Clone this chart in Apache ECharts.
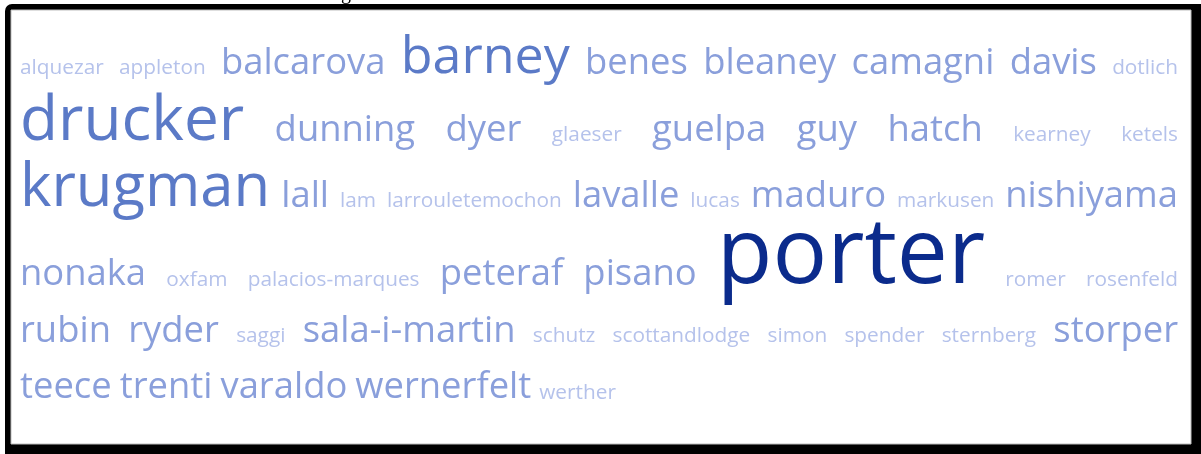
<!DOCTYPE html>
<html>
<head>
<meta charset="utf-8">
<script src="https://cdn.jsdelivr.net/npm/echarts@6/dist/echarts.min.js"></script>
<style>
  html, body { margin: 0; padding: 0; background: #fff; }
  #miNube { width: 1201px; height: 454px; }
</style>
</head>
<body>
<div id="miNube"></div>
<script>
// Nube de autores (tag cloud), en orden alfabético
var autores = [
    'alquezar', 'appleton', 'balcarova', 'barney', 'benes', 'bleaney', 'camagni', 'davis', 'dotlich',
    'drucker', 'dunning', 'dyer', 'glaeser', 'guelpa', 'guy', 'hatch', 'kearney', 'ketels',
    'krugman', 'lall', 'lam', 'larrouletemochon', 'lavalle', 'lucas', 'maduro', 'markusen', 'nishiyama',
    'nonaka', 'oxfam', 'palacios-marques', 'peteraf', 'pisano', 'porter', 'romer', 'rosenfeld',
    'rubin', 'ryder', 'saggi', 'sala-i-martin', 'schutz', 'scottandlodge', 'simon', 'spender', 'sternberg', 'storper',
    'teece', 'trenti', 'varaldo', 'wernerfelt', 'werther'
];
var pesos = [
    2, 2, 4, 6, 4, 4, 4, 4, 2,
    7.3, 4, 4, 2, 4, 4, 4, 2, 2,
    7, 4, 2, 2, 4, 2, 4, 2, 4,
    4, 2, 2, 4, 4, 11, 2, 2,
    4, 4, 2, 4, 2, 2, 2, 2, 2, 4,
    4, 4, 4, 4, 2
];

var FUENTE = '"Open Sans"';
var W = 1180, H = 434;          // zona blanca del marco
var PAD_IZQ = 9, PAD_DER = 13;
var HUECO = 8;                  // espacio mínimo entre palabras

function tamano(p) { return 5.2 + 7.8 * p; }
function colorDe(p) {
    if (p >= 9) return '#0b2b8c';
    if (p >= 5) return '#5b7ac7';
    if (p >= 3) return '#8a9fdb';
    return '#b5c2eb';
}

var ctx = document.createElement('canvas').getContext('2d');
var items = autores.map(function (a, i) {
    var t = tamano(pesos[i]);
    ctx.font = t + 'px ' + FUENTE;
    return { name: a, peso: pesos[i], size: t, ancho: ctx.measureText(a).width };
});

// reparto en filas (justificadas, menos la última)
var filas = [], fila = [], usado = 0, util = W - PAD_IZQ - PAD_DER;
items.forEach(function (it) {
    var extra = fila.length ? HUECO + it.ancho : it.ancho;
    if (fila.length && usado + extra > util) {
        filas.push(fila); fila = []; usado = 0; extra = it.ancho;
    }
    fila.push(it); usado += extra;
});
if (fila.length) filas.push(fila);

var datos = [];
var base = 0;
filas.forEach(function (f, r) {
    var maxT = Math.max.apply(null, f.map(function (it) { return it.size; }));
    base += 41.5 + 0.41 * maxT + (r === 0 ? 2 : 0);
    var total = f.reduce(function (s, it) { return s + it.ancho; }, 0);
    var hueco = (r < filas.length - 1 && f.length > 1) ? (util - total) / (f.length - 1) : HUECO;
    var x = PAD_IZQ;
    f.forEach(function (it) {
        datos.push({
            name: it.name,
            value: [x, base - 0.32 * it.size, it.peso],
            label: { fontSize: it.size, color: colorDe(it.peso) }
        });
        x += it.ancho + hueco;
    });
});

var dom = document.getElementById('miNube');
var myChart = echarts.init(dom, null, { renderer: 'canvas' });

var option = {
    animation: false,
    backgroundColor: '#fff',
    graphic: [
        { type: 'text', left: 341, top: -16, z: 0,
          style: { text: 'g', font: '20px "Liberation Serif"', fill: '#000' } },
        { type: 'rect', shape: { x: 5, y: 4, width: 1196, height: 450, r: [7, 0, 0, 0] },
          style: { fill: '#000' }, z: 1 },
        { type: 'rect', shape: { x: 11, y: 10, width: W, height: H },
          style: { fill: '#fff', stroke: '#bdbdbd', lineWidth: 1 }, z: 1 }
    ],
    grid: { left: 11, top: 10, width: W, height: H },
    xAxis: { type: 'value', min: 0, max: W, show: false },
    yAxis: { type: 'value', min: 0, max: H, inverse: true, show: false },
    series: [
        {
            type: 'scatter',
            symbolSize: 0,
            z: 5,
            itemStyle: { opacity: 1 },
            data: datos,
            label: {
                show: true,
                position: [0, 0],
                align: 'left',
                verticalAlign: 'middle',
                fontFamily: FUENTE,
                formatter: '{b}'
            }
        }
    ]
};

if (option && typeof option === 'object') {
    myChart.setOption(option);
}

window.addEventListener('resize', myChart.resize);
</script>
</body>
</html>
